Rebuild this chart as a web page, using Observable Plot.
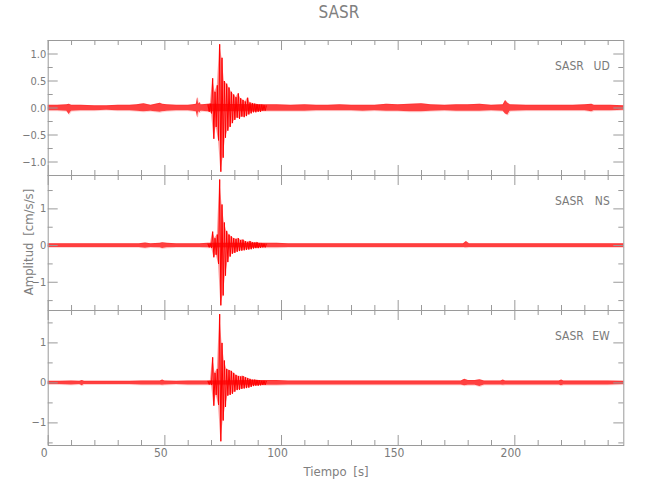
<!DOCTYPE html>
<html><head><meta charset="utf-8">
<script src="https://cdn.jsdelivr.net/npm/d3@7"></script>
<script src="https://cdn.jsdelivr.net/npm/@observablehq/plot@0.6"></script>
<style>
body{margin:0;background:#fff;}
#wrap{position:relative;width:650px;height:500px;overflow:hidden;font-family:"Liberation Sans Narrow","DejaVu Sans Condensed","Liberation Sans",sans-serif;color:#808080;}
.panel{position:absolute;left:0;}
.lab{position:absolute;white-space:nowrap;}
</style>
</head><body>
<div id="wrap"></div>
<script>
// ---------- data ----------
const station = "SASR";
const components = ["UD", "NS", "EW"];
const xDomain = [0, 246.7];
const xMajor = [0, 50, 100, 150, 200];
const xMinor = [10,20,30,40,60,70,80,90,110,120,130,140,160,170,180,190,210,220,230,240];

const yDomainUD = [-1.25, 1.25];
const yMajorUD = [-1, -0.5, 0, 0.5, 1];
const yMinorUD = [-1.25, -0.75, -0.25, 0.25, 0.75, 1.25];
const yDomainNS = [-1.77, 1.91];
const yMajorNS = [-1, 0, 1];
const yMinorNS = [-1.5, -0.5, 0.5, 1.5];
const yDomainEW = [-1.565, 1.81];
const yMajorEW = [-1, 0, 1];
const yMinorEW = [-1.5, -0.5, 0.5, 1.5];

// strong-motion part: signed peak amplitudes (cm/s/s)
const tBurst = [68.5,69,69.5,70,70.5,71,71.5,72,72.5,73,73.5,74,74.5,75,75.5,76,76.5,77,77.5,78,78.5,79,79.5,80,80.5,81,81.5,82,82.5,83,83.5,84,84.5,85,85.5,86,86.5,87,87.5,88,88.5,89,89.5,90,90.5,91,91.5,92,92.5,93,93.5];
const burstUD = [0.06,-0.07,0.08,-0.10,0.55,-0.57,0.30,-0.35,0.42,-0.60,1.18,-1.18,0.93,-0.92,0.50,-0.55,0.45,-0.42,0.38,-0.35,0.30,-0.28,0.25,-0.22,0.20,-0.18,0.27,-0.20,0.18,-0.16,0.15,-0.17,0.12,-0.15,0.19,-0.12,0.10,-0.10,0.09,-0.08,0.08,-0.08,0.07,-0.07,0.06,-0.07,0.06,-0.05,0.05,-0.05,0.04];
const burstNS = [0.04,-0.05,0.05,-0.06,0.38,-0.32,0.20,-0.25,0.30,-0.50,1.80,-1.63,1.12,-1.36,0.63,-0.82,0.40,-0.45,0.30,-0.30,0.25,-0.22,0.20,-0.20,0.18,-0.17,0.20,-0.15,0.15,-0.14,0.16,-0.13,0.12,-0.12,0.10,-0.11,0.12,-0.10,0.09,-0.08,0.08,-0.07,0.09,-0.07,0.06,-0.06,0.06,-0.05,0.05,-0.05,0.04];
const burstEW = [0.04,-0.04,0.05,-0.05,0.64,-0.57,0.25,-0.30,0.35,-0.55,1.72,-1.46,1.00,-0.94,0.56,-0.60,0.35,-0.32,0.32,-0.30,0.30,-0.27,0.25,-0.22,0.20,-0.18,0.17,-0.17,0.16,-0.15,0.17,-0.14,0.14,-0.13,0.12,-0.12,0.10,-0.10,0.08,-0.08,0.08,-0.07,0.07,-0.07,0.06,-0.06,0.05,-0.05,0.05,-0.05,0.04];

// background noise envelope (upper / lower)
const tNoiseUD = [0,4,8,9,10,14,20,25,30,35,38,41,44,48,49,51,55,60,62,63.5,64,64.5,65,65.5,66,68.5,94,98,104,110,115,120,125,130,135,140,145,150,155,160,164,170,175,180,185,190,195,196,197,198,205,210,215,220,225,230,233,234,237,241,246.7];
const hiNoiseUD = [0.05,0.05,0.06,0.07,0.05,0.05,0.04,0.04,0.05,0.05,0.06,0.08,0.05,0.09,0.07,0.06,0.05,0.05,0.06,0.07,0.19,0.07,0.10,0.06,0.06,0.07,0.06,0.06,0.05,0.06,0.05,0.05,0.06,0.05,0.05,0.05,0.07,0.06,0.07,0.08,0.06,0.05,0.06,0.06,0.07,0.05,0.06,0.14,0.09,0.06,0.05,0.05,0.05,0.05,0.05,0.06,0.07,0.05,0.05,0.05,0.04];
const loNoiseUD = [-0.05,-0.05,-0.06,-0.12,-0.06,-0.05,-0.05,-0.04,-0.05,-0.05,-0.06,-0.07,-0.06,-0.08,-0.07,-0.06,-0.05,-0.05,-0.06,-0.07,-0.17,-0.07,-0.09,-0.06,-0.06,-0.07,-0.06,-0.06,-0.06,-0.06,-0.05,-0.05,-0.05,-0.05,-0.06,-0.05,-0.06,-0.06,-0.07,-0.07,-0.06,-0.05,-0.06,-0.06,-0.06,-0.05,-0.06,-0.11,-0.13,-0.06,-0.05,-0.05,-0.05,-0.05,-0.05,-0.05,-0.07,-0.05,-0.05,-0.05,-0.04];

const tNoiseNS = [0,5,10,15,20,25,30,35,39,41.7,44,48,49,51,55,60,65,68.5,94,98,103,110,120,130,140,150,160,170,178,179.2,180.5,190,200,210,220,230,240,246.7];
const hiNoiseNS = [0.05,0.05,0.05,0.05,0.05,0.05,0.05,0.05,0.05,0.07,0.05,0.06,0.08,0.06,0.05,0.05,0.05,0.06,0.06,0.06,0.05,0.05,0.05,0.05,0.05,0.05,0.05,0.05,0.05,0.11,0.05,0.05,0.05,0.05,0.05,0.05,0.05,0.05];
const loNoiseNS = [-0.05,-0.05,-0.05,-0.05,-0.05,-0.05,-0.05,-0.05,-0.05,-0.07,-0.05,-0.06,-0.08,-0.06,-0.05,-0.05,-0.05,-0.06,-0.06,-0.06,-0.05,-0.05,-0.05,-0.05,-0.05,-0.05,-0.05,-0.05,-0.05,-0.06,-0.05,-0.05,-0.05,-0.05,-0.05,-0.05,-0.05,-0.05];

const tNoiseEW = [0,5,10,13.5,14.6,15.5,20,25,30,35,40,45,48,49,50,55,60,65,68.5,94,98,103,110,120,130,140,150,160,170,177,178.5,180,183,185,187,190,194,195,196,200,210,219,220,221,230,240,246.7];
const hiNoiseEW = [0.04,0.04,0.05,0.04,0.06,0.04,0.04,0.04,0.04,0.04,0.05,0.05,0.05,0.07,0.05,0.04,0.05,0.05,0.05,0.06,0.06,0.05,0.05,0.05,0.05,0.05,0.05,0.05,0.05,0.05,0.09,0.06,0.06,0.08,0.05,0.05,0.05,0.07,0.05,0.05,0.05,0.05,0.07,0.05,0.05,0.05,0.04];
const loNoiseEW = [-0.04,-0.04,-0.05,-0.04,-0.07,-0.04,-0.04,-0.04,-0.04,-0.04,-0.05,-0.05,-0.05,-0.06,-0.05,-0.04,-0.05,-0.05,-0.05,-0.06,-0.06,-0.05,-0.05,-0.05,-0.05,-0.05,-0.05,-0.05,-0.05,-0.05,-0.07,-0.06,-0.06,-0.09,-0.05,-0.05,-0.05,-0.06,-0.05,-0.05,-0.05,-0.05,-0.07,-0.05,-0.05,-0.05,-0.04];

// ---------- drawing ----------
const wrap = document.getElementById("wrap");
const ML = 47.7, MR = 26.7, W = 650, H = 135, FW = W - ML - MR;
const gray = "#9a9a9a", txt = "#7a7a7a", red = "#ff0000";
const panels = [
  {c: "UD", top: 40, dom: yDomainUD, maj: yMajorUD, min: yMinorUD, fmt: d3.format(".1f"), tb: tBurst, b: burstUD, tn: tNoiseUD, hi: hiNoiseUD, lo: loNoiseUD},
  {c: "NS", top: 175, dom: yDomainNS, maj: yMajorNS, min: yMinorNS, fmt: d3.format("d"), tb: tBurst, b: burstNS, tn: tNoiseNS, hi: hiNoiseNS, lo: loNoiseNS},
  {c: "EW", top: 310, dom: yDomainEW, maj: yMajorEW, min: yMinorEW, fmt: d3.format("d"), tb: tBurst, b: burstEW, tn: tNoiseEW, hi: hiNoiseEW, lo: loNoiseEW}
];
panels.forEach((p, k) => {
  const last = k === panels.length - 1;
  const mt = 5, mb = last ? 25 : 5;
  const ni = d3.range(p.tn.length), bi = d3.range(p.tb.length);
  const pos = bi.filter(i => p.b[i] > 0), neg = bi.filter(i => p.b[i] < 0);
  const marks = [
    Plot.areaY(ni, {x: i => p.tn[i], y1: i => p.lo[i], y2: i => p.hi[i], fill: red, fillOpacity: 0.75}),
    Plot.line(ni, {x: i => p.tn[i], y: i => p.hi[i], stroke: red, strokeOpacity: 0.3, strokeWidth: 0.6}),
    Plot.line(ni, {x: i => p.tn[i], y: i => p.lo[i], stroke: red, strokeOpacity: 0.3, strokeWidth: 0.6}),
    Plot.areaY(pos, {x: i => p.tb[i], y: i => p.b[i], fill: red, fillOpacity: 0.4}),
    Plot.areaY(neg, {x: i => p.tb[i], y: i => p.b[i], fill: red, fillOpacity: 0.4}),
    Plot.line(bi, {x: i => p.tb[i], y: i => p.b[i], stroke: red, strokeWidth: 1}),
    Plot.frame({stroke: gray}),
    Plot.tickX(xMinor, {x: d => d, stroke: gray, insetTop: H - 5}),
    Plot.tickX(xMinor, {x: d => d, stroke: gray, insetBottom: H - 5}),
    Plot.tickX(xMajor, {x: d => d, stroke: gray, insetTop: H - 10}),
    Plot.tickX(xMajor, {x: d => d, stroke: gray, insetBottom: H - 10}),
    Plot.tickY(p.min, {y: d => d, stroke: gray, insetRight: FW - 5}),
    Plot.tickY(p.min, {y: d => d, stroke: gray, insetLeft: FW - 5}),
    Plot.tickY(p.maj, {y: d => d, stroke: gray, insetRight: FW - 10}),
    Plot.tickY(p.maj, {y: d => d, stroke: gray, insetLeft: FW - 10}),
    Plot.axisY({ticks: p.maj, tickSize: 0, tickPadding: 2, tickFormat: p.fmt, label: null, fill: txt, fontSize: 11}),
    Plot.text([station], {text: d => d, frameAnchor: "top-right", dx: -40, dy: 21, textAnchor: "end", fill: txt, fontSize: 12}),
    Plot.text([p.c], {text: d => d, frameAnchor: "top-right", dx: -14, dy: 21, textAnchor: "end", fill: txt, fontSize: 12})
  ];
  if (last) marks.push(Plot.axisX({ticks: xMajor, tickSize: 0, tickPadding: 3, dx: -4, label: null, fill: txt, fontSize: 12}));
  const svg = Plot.plot({
    width: W, height: H + mt + mb,
    marginLeft: ML, marginRight: MR, marginTop: mt, marginBottom: mb,
    style: {background: "transparent", overflow: "visible", fontFamily: '"Liberation Sans Narrow","DejaVu Sans Condensed",sans-serif'},
    x: {domain: xDomain, axis: last ? undefined : null},
    y: {domain: p.dom},
    marks
  });
  svg.classList.add("panel");
  svg.style.top = (p.top - mt) + "px";
  wrap.appendChild(svg);
});

function label(text, x, y, size, rot) {
  const d = document.createElement("div");
  d.className = "lab";
  d.textContent = text;
  d.style.left = x + "px";
  d.style.top = y + "px";
  d.style.fontSize = size + "px";
  d.style.wordSpacing = "3px";
  d.style.transform = "translate(-50%,-50%)" + (rot ? " rotate(-90deg)" : "");
  wrap.appendChild(d);
}
label(station, 339, 12, 17, false);
label("Tiempo [s]", 336, 471, 13, false);
label("Amplitud [cm/s/s]", 28, 242, 13, true);
</script>
</body></html>
